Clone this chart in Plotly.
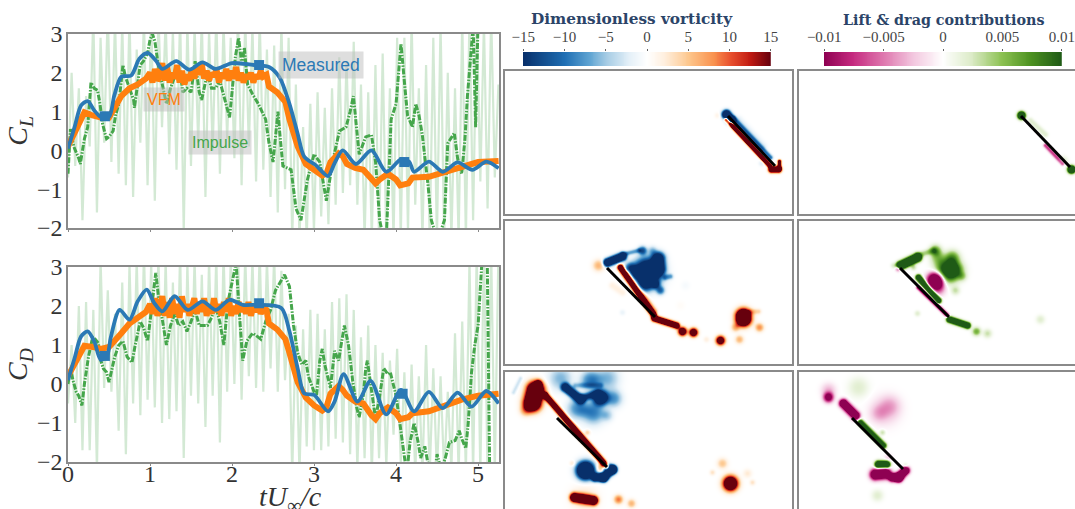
import numpy as np
import plotly.graph_objects as go

# ---------- line data ----------
meas_cl_t = [0,.08,.16,.24,.32,.40,.5,.565,.65,.77,.87,.97,1.07,1.15,1.32,1.48,1.64,1.8,2.0,2.3,2.45,2.58,2.7,2.8,2.88,3.02,3.17,3.25,3.35,3.51,3.7,3.88,4.06,4.16,4.22,4.4,4.57,4.75,4.93,5.1,5.25]
meas_cl = [.05,.6,1.16,1.27,1.03,.86,.86,1.42,1.9,1.93,2.36,2.51,2.32,2.1,2.3,2.08,2.27,2.1,2.25,2.19,2.15,1.88,1.2,.43,-.16,-.38,-.66,-.33,0,-.35,0,-.55,-.23,-.29,-.55,-.29,-.55,-.31,-.5,-.29,-.46]
meas_cd_t = [0,.08,.16,.24,.32,.40,.48,.52,.63,.75,.85,.96,1.05,1.15,1.3,1.46,1.64,1.8,1.97,2.13,2.3,2.6,2.7,2.8,2.88,3.0,3.17,3.25,3.36,3.53,3.69,3.88,4.06,4.22,4.4,4.57,4.75,4.92,5.1,5.25]
meas_cd = [.1,.66,1.22,1.35,1.09,.62,.75,1.18,1.9,1.65,2.12,2.42,2.08,1.86,2.25,1.9,2.12,1.9,2.16,2.03,2.03,1.95,1.35,.4,-.24,-.28,-.7,-.45,.25,-.45,.08,-.78,-.15,-.7,-.2,-.62,-.22,-.58,-.18,-.5]

marker_cl_t = [.45,2.33,4.1]
marker_cl = [.88,2.2,-.3]
marker_cd_t = [.45,2.33,4.08]
marker_cd = [.72,2.07,-.25]

vfm_head_t = [0,.1,.2,.3,.4,.5,.55,.65,.75,.85,.95]
vfm_tail_t = [2.42,2.45,2.55,2.65,2.7,2.8,2.9,3.0,3.1,3.15,3.2,3.3,3.35,3.4,3.5,3.6,3.7,3.75,3.8,3.9,4.0,4.05,4.15,4.2,4.4,4.6,4.8,5.0,5.25]
vfm_mid_t = [1.0+.03*i for i in range(47)]
vfm_cl_head = [.1,.55,.98,.9,.85,.85,1.05,1.4,1.6,1.7,1.85]
vfm_cl_mid = [2.0,1.75,2.1,1.8,1.9,2.25,1.8,2.15,1.75,2.0,1.85,2.2,1.75,2.05,1.7,1.95,1.8,2.1,1.85,2.15,1.95,2.25,1.85,2.05,1.8,2.0,1.9,2.1,1.75,2.0,1.85,2.1,1.8,2.05,1.85,2.15,1.8,2.0,1.75,1.95,1.85,2.0,1.75,1.95,1.85,2.05,1.9]
vfm_cl_tail = [1.95,1.65,1.5,1.25,.8,.1,-.35,-.5,-.65,-.6,-.3,-.08,-.15,-.35,-.45,-.5,-.7,-.85,-.75,-.6,-.75,-.9,-.85,-.7,-.68,-.55,-.4,-.3,-.27]
vfm_cd_head = [.2,.6,.98,.95,.9,.95,1.05,1.3,1.55,1.7,1.85]
vfm_cd_mid = [2.05,1.8,2.2,1.75,2.0,2.25,1.75,2.1,1.7,2.2,1.8,2.05,1.7,2.25,1.85,2.05,1.75,2.0,2.2,1.8,2.1,1.85,2.2,1.75,2.0,1.8,2.2,1.85,2.05,1.75,2.1,1.85,2.2,1.75,2.0,1.8,2.1,1.85,2.05,1.8,2.1,1.75,2.0,1.85,2.05,1.8,1.95]
vfm_cd_tail = [1.9,1.55,1.4,1.15,.8,.05,-.35,-.55,-.68,-.6,-.25,-.05,-.15,-.3,-.45,-.5,-.8,-.9,-.75,-.6,-.75,-.9,-.85,-.75,-.7,-.55,-.4,-.3,-.25]

imp_cl_t = [0,.03,.07,.1,.13,.15,.18,.2,.24,.26,.28,.32,.36,.39,.42,.45,.47,.5,.55,.58,.62,.67,.7,.75,.8,.81,.85,.88,.92,.97,1.0,1.03,1.06,1.1,1.15,1.2,1.25,1.3,1.37,1.4,1.45,1.5,1.55,1.6,1.63,1.7,1.75,1.8,1.85,1.9,1.97,2.0,2.04,2.08,2.12,2.15,2.19,2.25,2.32,2.41,2.45,2.5,2.56,2.58,2.62,2.72,2.78,2.84,2.92,3.0,3.07,3.15,3.23,3.31,3.39,3.44,3.48,3.55,3.63,3.7,3.75,3.8,3.84,3.88,3.94,4.0,4.03,4.06,4.1,4.14,4.2,4.24,4.28,4.32,4.39,4.43,4.49,4.54,4.59,4.63,4.71,4.75,4.8,4.84,4.87,4.9,4.94,4.97,5.0]
imp_cl = [-.6,.55,.1,-.05,-.2,-.35,.1,.3,.6,1.3,1.75,1.6,1.55,1.2,.7,.45,.3,.35,.5,.9,1.2,2.2,1.9,1.6,1.3,1.1,1.7,2.2,2.3,2.5,2.85,3.0,2.8,2.2,1.7,1.2,1.6,1.9,2.0,1.5,1.6,1.5,2.3,1.5,1.3,2.0,1.6,1.6,1.8,1.4,.85,1.5,2.4,2.9,2.2,2.65,1.7,1.45,1.2,.8,.2,-.3,1.0,.5,-.4,-.5,-1.5,-1.8,-.75,-.1,-.3,-1.3,-.25,.5,.6,1.0,1.4,-.1,.35,.4,-.3,-1.8,-2.2,-2.3,.8,1.2,2.0,2.75,1.8,.9,.6,1.2,.9,.4,-.9,-1.8,-2.2,-2.1,-1.8,.18,.45,-.2,-.6,.3,1.4,2.2,3.2,.6,3.4]

imp_cd_t = [0,.03,.06,.1,.13,.17,.2,.25,.3,.33,.37,.4,.43,.47,.5,.53,.57,.62,.67,.72,.78,.82,.88,.92,.97,1.0,1.05,1.07,1.1,1.15,1.2,1.25,1.3,1.35,1.4,1.45,1.5,1.55,1.6,1.7,1.75,1.8,1.85,1.9,1.95,2.0,2.05,2.09,2.13,2.18,2.25,2.29,2.35,2.41,2.47,2.53,2.64,2.7,2.75,2.8,2.85,2.9,2.93,3.0,3.03,3.07,3.1,3.13,3.2,3.25,3.3,3.33,3.37,3.42,3.47,3.52,3.55,3.6,3.63,3.65,3.7,3.75,3.8,3.85,3.9,3.93,4.0,4.05,4.08,4.13,4.17,4.22,4.27,4.3,4.35,4.4,4.43,4.47,4.5,4.55,4.6,4.65,4.72,4.77,4.8,4.85,4.88,4.92,4.96,5.0,5.03,5.06,5.11,5.14,5.17]
imp_cd = [0,.4,.1,-.2,-.3,-.55,0,.7,1.2,1.15,1.05,.6,.4,.3,.05,.3,.7,1.0,1.1,.7,.55,1.0,1.6,1.45,1.1,1.6,2.5,2.85,2.3,1.7,1.0,1.5,1.8,1.5,1.6,1.35,1.6,1.9,1.5,1.5,1.7,2.0,1.6,1.0,2.1,2.6,3.1,1.8,.6,1.1,1.3,1.25,1.15,1.6,1.9,2.4,2.8,2.5,1.5,.8,.5,.6,.2,-.2,-.3,.6,.9,.5,-.1,.85,.6,1.0,1.5,1.0,.1,-.6,-.85,-.3,.4,.6,-.2,-.9,-.3,.4,.25,.3,-.3,-1.0,-1.5,-2.3,-1.5,-1.0,-1.5,-1.9,-1.6,-2.2,-2.5,-2.3,-1.8,-2.2,-1.9,-1.5,-1.45,-1.2,-1.4,-1.65,-1.0,.3,1.0,1.5,2.3,3.6,3.5,-2.0,-3.0]

raw_t_step = .0441
raw_cl = [-.7,2.0,-.4,1.6,-1.8,1.4,.1,3.5,-1.6,2.9,.2,3.6,-.3,3.4,-.6,3.3,-.9,3.5,-1.2,2.6,.2,3.4,-.9,
          3.6,-1.3,3.5,.6,3.4,-.1,3.1,-.5,3.5,-2.1,3.3,-.4,3.2,.2,3.4,-1.2,3.1,0,3.5,-.6,3.3,.3,2.9,
          -.2,3.5,-.9,3.4,.1,3.2,-.8,3.4,-.5,2.6,-1.2,2.7,-1.6,3.3,-1.0,2.9,-2.3,1.7,-2.3,.6,-2.3,1.2,-2.1,
          1.5,-1.7,1.1,-1.9,1.6,-1.4,2.4,-1.1,2.3,-.9,2.8,-1.4,1.7,-2.3,1.5,-2.3,2.2,-2.3,2.5,-2.3,1.6,-2.3,2.9,
          -2.3,2.9,-2.1,3.4,-1.4,1.6,-2.3,2.2,-2.3,2.9,-2.3,3.3,-2.3,2.0,-2.3,1.6,-2.3,3.4,-2.3,3.5,-1.8,3.5,-.8,3.3,-1.5,3.5,-.7,1.7]
raw_cd = [-.5,1.0,-1.0,2.0,-1.7,2.1,-1.7,1.9,-2.2,3.2,-.1,2.4,-.2,1.8,-1.2,2.6,-1.8,3.1,-.5,3.2,-.8,3.4,-.4,
          3.1,-.6,3.3,-1.0,3.2,-.9,2.6,-.7,3.4,-1.9,3.1,-.3,3.2,-.5,2.8,-1.1,3.2,-.3,3.3,-1.5,3.4,-.2,3.2,
          0,3.4,-.4,3.3,.2,3.2,-.1,3.4,-.2,3.2,.4,3.3,-.2,2.9,.1,1.8,-2.3,1.5,-2.3,1.4,-1.6,1.9,-1.7,
          1.8,-1.7,1.4,-1.6,2.1,-1.4,2.2,-1.5,2.3,-1.8,1.9,-2.2,1.2,-1.9,1.5,-2.3,1.0,-1.9,.8,-2.1,.6,-1.3,.9,
          -2.0,.3,-2.3,.5,-2.3,.2,-2.3,1.0,-2.3,.4,-2.3,.2,-2.3,-.2,-2.2,1.3,-2.3,1.6,-2.3,3.2,-2.3,3.4,-2.3,3.5,-2.3,3.4,-2.3,3.4]

# ---------- flow fields: vortical structures ----------
# (x0, y0, x1, y1, spread, strength) in panel coordinates
vort_a = [(726,114,730,119,3,-34),(733,118,770,157,1.8,-10),(738,120,762,146,3,-2.5),(761,163,761,163,2,-2),
          (726,119,769,165,1.5,30),(771,169,778,169,2.2,30),(779,168,779,161,1.4,20),(717,115,717,115,2,1.5)]
vort_b = [(607,262,622,256,2.8,-30),(622,254,638,250,1.7,-7),(642,250,642,250,3,-12),(647,272,647,272,9.5,-30),
          (658,258,658,268,4.5,-22),(665,277,670,276,2,-7),(660,290,660,290,3,-10),(645,284,645,284,5,-10),
          (652,250,652,250,3,-5),(636,272,630,268,4,-12),(655,284,655,284,3,-12),(620,267,653,314,2.1,30),(628,272,655,310,1.8,4),
          (654,318,676,325,2.2,30),(682,331,682,331,3,26),(693,332,693,332,3,26),
          (720,340,720,340,3.2,24),(743,316,743,318,5.2,40),(739,339,739,339,3,6),(735,327,735,327,3,6),
          (759,327,759,327,3,8),(750,311,758,311,2,4),(706,339,706,339,2,2),(598,265,598,265,4,6),
          (612,285,622,292,2.5,2),(680,305,680,305,3,.5),(685,285,685,285,3,-.7),(622,312,622,312,2,-1.5)]
vort_c = [(535,390,532,402,6,38),(538,383,538,383,2.6,14),(525,410,525,410,4,6),(545,395,607,467,2.1,30),
          (574,497,593,500,3.2,30),(584,498,584,498,9,3),(618,499,618,499,3.2,9),(631,503,631,503,3,6),
          (730,483,730,483,5.2,30),(722,463,722,463,3.6,5),(712,472,712,472,2,3),(747,473,747,473,3,2.5),
          (752,482,752,482,2,3),(572,463,572,463,2,3),(587,432,587,432,2,4),(600,467,600,467,3,6),
          (607,467,612,469,2.8,-26),(612,469,603,477,2.8,-28),(603,477,595,477,2.8,-28),(585,470,585,470,6,-38),
          (565,387,580,399,3,-24),(600,397,600,397,5,-26),(583,397,597,393,2.6,-14),(560,378,560,378,8,-6),
          (607,378,607,378,8,-6),(613,398,613,398,6,-8),(593,412,593,412,8,-9),(607,415,607,415,4,-4),
          (577,408,577,408,7,-8),(520,378,513,392,1.5,-3),(590,380,590,380,7,-9),(575,385,600,385,2,-5)]
lift_a = [(1021,115,1021,115,2.6,.026),(1071,169,1071,169,2.6,.026),(1030,120,1045,134,2,.002),
          (1045,145,1062,163,1.5,-.007),(1063,160,1063,160,3,.002)]
lift_b = [(900,265,917,257,2.8,.026),(917,255,933,250,2.2,.004),(935,250,935,250,4,.006),(947,270,947,270,8,.013),
          (952,257,952,257,5,.006),(955,270,955,270,6,.006),(937,257,937,257,5,.004),(962,276,962,276,3,.003),
          (955,290,955,290,3,.003),(918,277,938,300,2.1,.018),(949,319,967,325,2.2,.02),(976,331,976,331,3,.006),
          (987,333,987,333,3,.003),(1040,319,1040,319,3,.002),(917,313,917,313,2,.002),(893,265,893,265,2,.002),
          (913,267,913,267,2,.003),(935,280,935,280,5.5,-.022),(938,288,938,288,5,-.005),
          (918,287,947,315,1.5,-.012),(898,268,898,268,2,-.01)]
lift_c = [(843,403,855,415,3,-.02),(828,397,828,397,3.5,-.012),(828,390,828,390,5,-.003),(875,474,885,473,3.8,-.02),
          (905,470,898,477,2.8,-.022),(898,477,892,477,2.8,-.022),(885,410,885,410,10,-.0025),(890,405,890,405,7,-.002),
          (878,413,878,413,6,-.002),(888,458,888,458,3,-.002),(878,464,886,464,2.6,.02),
          (860,422,883,445,2.2,.014),(858,387,858,387,7,.002),(877,495,877,495,4,.002),(905,466,905,466,2,.004),
          (882,432,882,432,2,.003)]

plate_a_v = ([728,775],[116,166])
plate_b_v = ([607,655],[268,317])
plate_c_v = ([557,607],[418,467])
plate_a_l = ([1021,1070],[116,167])
plate_b_l = ([900,949],[268,317])
plate_c_l = ([852,903],[418,469])

vort_ticks = [-15,-10,-5,0,5,10,15]
vort_labels = ["−15","−10","−5","0","5","10","15"]
lift_ticks = [-.01,-.005,0,.005,.01]
lift_labels = ["−0.01","−0.005","0","0.005","0.01"]

vort_scale = [[0,"#08306b"],[.17,"#1f6fb4"],[.27,"#60a5d3"],[.34,"#a8cde5"],[.43,"#e4f0f8"],[.5,"#ffffff"],
              [.57,"#fff0e0"],[.67,"#fdc78d"],[.77,"#f9924f"],[.84,"#e8502e"],[.92,"#c01a12"],[1,"#67000d"]]
lift_scale = [[0,"#8e0152"],[.12,"#c5297f"],[.25,"#de77ae"],[.38,"#f3c9e0"],[.5,"#ffffff"],
              [.62,"#dcebc8"],[.75,"#8cc152"],[.87,"#4d9221"],[1,"#1f5a16"]]

W, H = 1075, 509
SERIF = "Liberation Serif"
GREY = "#8a8a8a"
C_BLUE, C_ORANGE, C_GREEN = "#2b79b5", "#ff7f0e", "#45a64b"


def field(strokes, x_rng, y_rng):
    xs = np.arange(x_rng[0], x_rng[1] + 1.0)
    ys = np.arange(y_rng[0], y_rng[1] + 1.0)
    X, Y = np.meshgrid(xs, ys)
    z = np.zeros_like(X)
    for x0, y0, x1, y1, s, a in strokes:
        dx, dy = x1 - x0, y1 - y0
        L2 = dx * dx + dy * dy
        u = np.clip(((X - x0) * dx + (Y - y0) * dy) / L2, 0, 1) if L2 else 0
        d2 = (X - x0 - u * dx) ** 2 + (Y - y0 - u * dy) ** 2
        z += a * np.exp(-(d2 / (2 * s * s)) ** 1.15)
    return xs, ys, z


def dom_x(a, b):
    return [a / W, b / W]


def dom_y(a, b):
    return [1 - b / H, 1 - a / H]


fig = go.Figure()
layout = {}

# ---------- time-series panels ----------
def add_series(n, raw, imp_t, imp, vfm_head, vfm_mid, vfm_tail, m_t, m, mk_t, mk):
    xa, ya = f"x{n}", f"y{n}"
    raw_t = [raw_t_step * i for i in range(len(raw))]
    fig.add_trace(go.Scatter(x=raw_t, y=raw, xaxis=xa, yaxis=ya, mode="lines",
                             line=dict(color="rgba(70,165,75,0.24)", width=2.2)))
    fig.add_trace(go.Scatter(x=imp_t, y=imp, xaxis=xa, yaxis=ya, mode="lines",
                             line=dict(color=C_GREEN, width=3, dash="6px,1.5px,1.5px,1.5px")))
    fig.add_trace(go.Scatter(x=vfm_head_t + vfm_mid_t + vfm_tail_t, y=vfm_head + vfm_mid + vfm_tail,
                             xaxis=xa, yaxis=ya, mode="lines", line=dict(color=C_ORANGE, width=6)))
    fig.add_trace(go.Scatter(x=m_t, y=m, xaxis=xa, yaxis=ya, mode="lines",
                             line=dict(color=C_BLUE, width=3.8, shape="spline", smoothing=.8)))
    fig.add_trace(go.Scatter(x=mk_t, y=mk, xaxis=xa, yaxis=ya, mode="markers",
                             marker=dict(color=C_BLUE, size=10, symbol="square")))


add_series(1, raw_cl, imp_cl_t, imp_cl, vfm_cl_head, vfm_cl_mid, vfm_cl_tail, meas_cl_t, meas_cl, marker_cl_t, marker_cl)
add_series(2, raw_cd, imp_cd_t, imp_cd, vfm_cd_head, vfm_cd_mid, vfm_cd_tail, meas_cd_t, meas_cd, marker_cd_t, marker_cd)

INK = "#333333"
common_x = dict(range=[0, 5.255], showgrid=False, zeroline=False, showline=True, mirror=True, linecolor=GREY,
                linewidth=1.5, ticks="outside", ticklen=2, tickcolor=GREY, tickvals=[0, 1, 2, 3, 4, 5],
                ticklabelstandoff=-13)
common_y = dict(range=[-2, 3], showgrid=False, zeroline=False, showline=True, mirror=True, linecolor=GREY,
                linewidth=1.5, ticks="", tickvals=[-2, -1, 0, 1, 2, 3], ticktext=["−2", "−1", "0", "1", "2", "3"],
                tickfont=dict(family=SERIF, size=24, color=INK), ticklabelstandoff=-1)
layout["xaxis"] = dict(common_x, domain=dom_x(68, 499), anchor="y", showticklabels=False)
layout["yaxis"] = dict(common_y, domain=dom_y(34, 228), anchor="x",
                       title=dict(text="<i>C<sub>L</sub></i>", font=dict(family=SERIF, size=28, color=INK), standoff=1))
layout["xaxis2"] = dict(common_x, domain=dom_x(68, 499), anchor="y2", tickfont=dict(family=SERIF, size=24, color=INK))
layout["yaxis2"] = dict(common_y, domain=dom_y(267, 462), anchor="x2",
                        title=dict(text="<i>C<sub>D</sub></i>", font=dict(family=SERIF, size=28, color=INK), standoff=1))

# ---------- flow panels ----------
rows = [(71, 214), (221, 364), (372, 509)]
cols = [(505, 792), (799, 1075)]
panels = [(vort_a, plate_a_v, 0, 0), (vort_b, plate_b_v, 1, 0), (vort_c, plate_c_v, 2, 0),
          (lift_a, plate_a_l, 0, 1), (lift_b, plate_b_l, 1, 1), (lift_c, plate_c_l, 2, 1)]

for k, (strokes, plate, r, c) in enumerate(panels):
    n = k + 3
    xr, yr = cols[c], rows[r]
    xs, ys, z = field(strokes, xr, yr)
    scale = vort_scale if c == 0 else lift_scale
    vmax = 15 if c == 0 else .01
    fig.add_trace(go.Heatmap(x=xs, y=ys, z=z, xaxis=f"x{n}", yaxis=f"y{n}", zmin=-vmax, zmax=vmax, colorscale=scale,
                             showscale=False, hoverinfo="skip"))
    fig.add_trace(go.Scatter(x=plate[0], y=plate[1], xaxis=f"x{n}", yaxis=f"y{n}", mode="lines",
                             line=dict(color="black", width=3)))
    layout[f"xaxis{n}"] = dict(domain=dom_x(*xr), range=list(xr), anchor=f"y{n}", showticklabels=False,
                               ticks="", showgrid=False, zeroline=False, showline=True, linecolor=GREY, linewidth=1.5,
                               side="top", mirror=r != 2)
    layout[f"yaxis{n}"] = dict(domain=dom_y(*yr), range=[yr[1], yr[0]], anchor=f"x{n}", showticklabels=False,
                               ticks="", showgrid=False, zeroline=False, showline=True, linecolor=GREY, linewidth=1.5,
                               mirror=c != 1)

# ---------- colour bars ----------
def add_bar(n, x_px, vmax, scale, ticks, labels):
    ramp = np.linspace(-vmax, vmax, 256)
    fig.add_trace(go.Heatmap(x=ramp, y=[0, 1], z=[ramp, ramp], xaxis=f"x{n}", yaxis=f"y{n}", zmin=-vmax, zmax=vmax,
                             colorscale=scale, showscale=False, hoverinfo="skip"))
    layout[f"xaxis{n}"] = dict(domain=dom_x(*x_px), range=[-vmax * 1.002, vmax * 1.002], anchor=f"y{n}", side="top",
                               showgrid=False, zeroline=False, showline=False, ticks="outside", ticklen=2,
                               tickcolor="#666", tickvals=ticks, ticktext=labels, tickangle=0, ticklabelstandoff=1,
                               tickfont=dict(family=SERIF, size=15, color="#444"))
    layout[f"yaxis{n}"] = dict(domain=dom_y(52, 66), range=[0, 1], anchor=f"x{n}", visible=False)


add_bar(9, (523, 771), 15, vort_scale, vort_ticks, vort_labels)
add_bar(10, (824, 1062), .01, lift_scale, lift_ticks, lift_labels)

# ---------- text ----------
labels = [("Measured", 3.085, 2.2, C_BLUE, 17.5), ("VFM", 1.17, 1.31, C_ORANGE, 16),
          ("Impulse", 1.855, .2, C_GREEN, 16)]
ann = [dict(text=t, x=x, y=y, xref="x", yref="y", showarrow=False, bgcolor="rgba(190,190,190,0.5)", borderpad=3,
            font=dict(family="Liberation Sans", size=s, color=col)) for t, x, y, col, s in labels]
titles = [("Dimensionless vorticity", 632, 19, 15.3), ("Lift &amp; drag contributions", 943, 20, 14.3)]
for t, x, y, s in titles:
    ann.append(dict(text=f"<b>{t}</b>", x=x / W, y=1 - y / H, xref="paper", yref="paper", showarrow=False,
                    xanchor="center", yanchor="middle", font=dict(family="DejaVu Serif", size=s, color="#2b4468")))
ann.append(dict(text="<i>tU</i><sub>∞</sub><i>/c</i>", x=290 / W, y=1 - 498 / H, xref="paper", yref="paper",
                showarrow=False, xanchor="center", yanchor="middle", font=dict(family=SERIF, size=28, color=INK)))

fig.update_layout(width=W, height=H, margin=dict(l=0, r=0, t=0, b=0, autoexpand=False), paper_bgcolor="white",
                  plot_bgcolor="white", showlegend=False, annotations=ann, **layout)
fig.write_html("out.html", config={"displayModeBar": False},
               post_script="document.body.style.margin='0';document.documentElement.style.overflow='hidden';")
